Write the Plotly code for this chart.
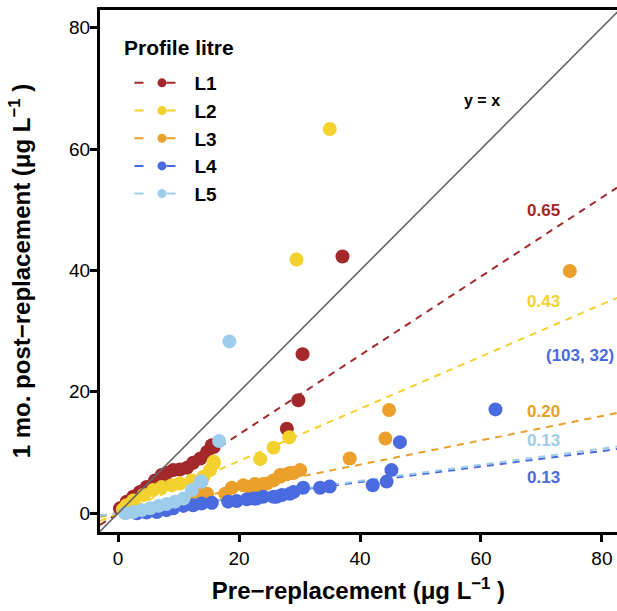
import numpy as np
import plotly.graph_objects as go

# ---------------- data ----------------
series_names = ["L1", "L2", "L3", "L4", "L5"]
colors = ["#A3282B", "#F4D22E", "#EAA02A", "#4A6BE0", "#9DCDEB"]
slopes = [0.65, 0.43, 0.20, 0.128, 0.133]
slope_labels = ["0.65", "0.43", "0.20", "0.13", "0.13"]
label_y = [49.9, 34.8, 16.8, 5.9, 11.9]

L1_x = [0.3, 1.4, 2.5, 3.6, 4.7, 6.1, 7.2, 8.0, 9.1, 10.2, 11.4, 12.4, 13.6, 14.7, 15.5, 15.8, 27.9, 29.8, 30.5, 37.1]
L1_y = [0.8, 1.9, 2.7, 3.5, 4.3, 5.4, 6.3, 6.6, 7.1, 7.2, 7.5, 8.3, 9.0, 10.1, 11.2, 10.9, 13.9, 18.6, 26.2, 42.3]

L2_x = [0.8, 1.4, 2.5, 4.2, 5.8, 7.2, 8.9, 10.2, 12.2, 14.1, 15.2, 15.8, 15.8, 23.5, 25.7, 28.3, 29.5, 35.0]
L2_y = [0.6, 1.3, 2.1, 3.0, 3.8, 4.3, 4.6, 4.9, 5.4, 6.0, 7.1, 8.5, 8.2, 8.9, 10.8, 12.5, 41.8, 63.3]

L3_x = [13.0, 14.1, 14.7, 17.7, 18.8, 20.7, 21.8, 22.6, 22.9, 24.0, 24.6, 25.7, 26.8, 26.8, 27.9, 28.4, 29.0, 30.1, 38.3, 44.2, 44.8, 74.7]
L3_y = [3.0, 3.2, 3.2, 3.2, 4.2, 4.6, 4.3, 4.8, 4.6, 4.8, 4.9, 5.4, 6.0, 6.3, 6.4, 6.6, 6.6, 7.1, 9.0, 12.3, 17.0, 39.9]

L4_x = [3.1, 4.7, 6.4, 8.0, 9.1, 10.8, 12.4, 13.8, 15.5, 18.2, 19.6, 21.3, 22.4, 22.9, 24.0, 25.7, 26.2, 27.1, 28.4, 29.0, 30.6, 33.4, 35.0, 42.1, 44.4, 45.2, 46.6, 62.4]
L4_y = [0.0, 0.1, 0.2, 0.5, 0.8, 1.2, 1.3, 1.6, 1.7, 1.9, 2.0, 2.3, 2.4, 2.4, 2.7, 2.7, 2.7, 3.0, 3.2, 3.5, 4.2, 4.2, 4.4, 4.6, 5.2, 7.1, 11.7, 17.1]

L5_x = [1.2, 2.5, 3.9, 5.3, 6.7, 8.0, 9.4, 10.8, 12.2, 13.6, 13.8, 16.7, 18.4]
L5_y = [0.0, 0.2, 0.5, 0.8, 1.2, 1.5, 1.9, 2.4, 3.8, 5.2, 5.2, 11.9, 28.3]

outlier_label = "(103, 32)"
outlier_pos = (76.4, 26.0)
identity_label = "y = x"
identity_pos = (60.2, 68.0)
legend_title = "Profile litre"

xs = [L1_x, L2_x, L3_x, L4_x, L5_x]
ys = [L1_y, L2_y, L3_y, L4_y, L5_y]

x_range = [-3.0, 82.5]
y_range = [-3.1, 82.9]

FONT = "Liberation Sans"

fig = go.Figure()

# regression lines through origin
line_x = np.array(x_range)
for name, col, s in zip(series_names, colors, slopes):
    fig.add_trace(go.Scatter(x=line_x, y=s * line_x, mode="lines",
                             line=dict(color=col, width=2, dash="7px,6px"),
                             showlegend=False, hoverinfo="skip"))

# points
for name, col, x, y in zip(series_names, colors, xs, ys):
    fig.add_trace(go.Scatter(x=x, y=y, mode="markers", name=name,
                             marker=dict(color=col, size=14, line=dict(width=0)),
                             showlegend=False))

# y = x
fig.add_trace(go.Scatter(x=[x_range[0], y_range[1]], y=[x_range[0], y_range[1]], mode="lines",
                         line=dict(color="#666666", width=1.6), showlegend=False, hoverinfo="skip"))

# legend entries
for name, col in zip(series_names, colors):
    fig.add_trace(go.Scatter(x=[None], y=[None], mode="lines+markers", name=f"<b>{name}</b>",
                             legendgroup=name,
                             line=dict(color=col, width=2, dash="9px,23px"),
                             marker=dict(color=col, size=9)))

annotations = []
for lab, col, ly in zip(slope_labels, colors, label_y):
    annotations.append(dict(x=70.4, y=ly, text=f"<b>{lab}</b>", showarrow=False,
                            font=dict(color=col, size=17, family=FONT)))
annotations.append(dict(x=outlier_pos[0], y=outlier_pos[1], text=f"<b>{outlier_label}</b>",
                        showarrow=False, font=dict(color=colors[3], size=17, family=FONT)))
annotations.append(dict(x=identity_pos[0], y=identity_pos[1], text=f"<b>{identity_label}</b>",
                        showarrow=False, font=dict(color="black", size=16, family=FONT)))
annotations.append(dict(xref="paper", yref="paper", x=0.043, y=0.929, xanchor="left",
                        yanchor="middle", text=f"<b>{legend_title}</b>", showarrow=False,
                        font=dict(color="black", size=21, family=FONT)))

fig.update_layout(
    width=617, height=611,
    margin=dict(l=100, r=0, t=10, b=79, autoexpand=False),
    plot_bgcolor="white", paper_bgcolor="white",
    font=dict(family=FONT, color="black"),
    annotations=annotations,
    legend=dict(x=0.057, y=0.8966, xanchor="left", yanchor="top",
                font=dict(size=19, family=FONT), bgcolor="rgba(0,0,0,0)",
                tracegroupgap=0, itemwidth=55),
    xaxis=dict(range=x_range, showgrid=False, zeroline=False, automargin=False,
               showline=True, linecolor="black", linewidth=3, mirror=True,
               ticks="outside", tickwidth=3, ticklen=7, tickcolor="black",
               tickvals=[0, 20, 40, 60, 80], ticklabelstandoff=0,
               tickfont=dict(size=19, family=FONT),
               tickprefix="<b>", ticksuffix="</b>",
               title=dict(text="<b>Pre\u2212replacement (\u03bcg L<sup>\u22121</sup> )</b>",
                          font=dict(size=24, family=FONT), standoff=15)),
    yaxis=dict(range=y_range, showgrid=False, zeroline=False, automargin=False,
               showline=True, linecolor="black", linewidth=3, mirror=False,
               ticks="outside", tickwidth=3, ticklen=7, tickcolor="black",
               tickvals=[0, 20, 40, 60, 80], ticklabelstandoff=-4,
               tickfont=dict(size=19, family=FONT),
               tickprefix="<b>", ticksuffix="</b>",
               title=dict(text="<b>1 mo. post\u2212replacement (\u03bcg L<sup>\u22121</sup> )</b>",
                          font=dict(size=24, family=FONT), standoff=32)),
)

fig.write_html("out.html", config={"displayModeBar": False},
               post_script="document.body.style.margin='0';document.body.style.overflow='hidden';")
